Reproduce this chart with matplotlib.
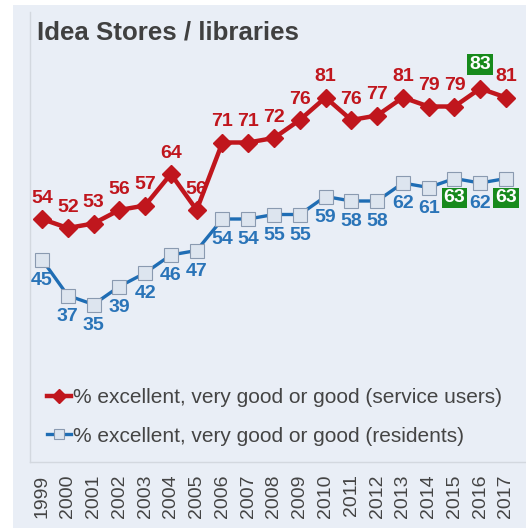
import matplotlib
matplotlib.use("Agg")
import matplotlib.pyplot as plt
from matplotlib.patches import Rectangle

years = list(range(1999, 2018))
service_users = [54, 52, 53, 56, 57, 64, 56, 71, 71, 72, 76, 81, 76, 77, 81, 79, 79, 83, 81]
residents = [45, 37, 35, 39, 42, 46, 47, 54, 54, 55, 55, 59, 58, 58, 62, 61, 63, 62, 63]
highlight_users = [2016]
highlight_residents = [2015, 2017]
title = "Idea Stores / libraries"
label_users = "% excellent, very good or good (service users)"
label_residents = "% excellent, very good or good (residents)"

RED = "#c0161d"
BLUE = "#1f6db4"
BLUE_TXT = "#2a74b8"
GREEN = "#178a1c"
PANEL = "#e9eef6"
FONT = "Liberation Sans"

W, H = 526, 528
fig = plt.figure(figsize=(W / 100, H / 100), dpi=100)
fig.patch.set_facecolor("white")
fig.patches.append(Rectangle((13 / W, 0), 1 - 13 / W, 1 - 5 / H, transform=fig.transFigure,
                             facecolor=PANEL, edgecolor="none", zorder=-5))

ax = fig.add_axes([30 / W, 1 - 462 / H, 496 / W, 450 / H])
ax.set_zorder(2)
ax.set_facecolor("none")
ax.set_xlim(1998.535, 2017.776)
ax.set_ylim(0, 100)
for s in ["top", "right"]:
    ax.spines[s].set_visible(False)
for s in ["left", "bottom"]:
    ax.spines[s].set_color("#d3d8df")
    ax.spines[s].set_linewidth(1.0)
ax.set_yticks([])
ax.set_xticks(years)
ax.set_xticklabels([str(y) for y in years], rotation=90, fontsize=14, family=FONT, color="#444444")
ax.tick_params(axis="x", length=0, pad=9)

ax.plot(years, service_users, color=RED, lw=3.2, marker="D", ms=9, mfc=RED, mec=RED,
        label=label_users, zorder=3)
ax.plot(years, residents, color=BLUE, lw=2.4, marker="s", ms=9.5, mfc="#dde5ef", mec="#8a9ab0",
        mew=0.8, label=label_residents, zorder=3)

LFS = 14
for y, v in zip(years, service_users):
    if y in highlight_users:
        ax.annotate(str(v), (y, v), xytext=(0, 17.5), textcoords="offset points", ha="center",
                    va="center", fontsize=LFS, fontweight="bold", family=FONT, color="white",
                    bbox=dict(boxstyle="square,pad=0.1", fc=GREEN, ec="none"), zorder=5)
    else:
        ax.annotate(str(v), (y, v), xytext=(0, 15), textcoords="offset points", ha="center",
                    va="center", fontsize=LFS, fontweight="bold", family=FONT, color=RED, zorder=4)

for y, v in zip(years, residents):
    if y in highlight_residents:
        ax.annotate(str(v), (y, v), xytext=(0, -14), textcoords="offset points", ha="center",
                    va="center", fontsize=LFS, fontweight="bold", family=FONT, color="white",
                    bbox=dict(boxstyle="square,pad=0.1", fc=GREEN, ec="none"), zorder=5)
    else:
        ax.annotate(str(v), (y, v), xytext=(0, -15), textcoords="offset points", ha="center",
                    va="center", fontsize=LFS, fontweight="bold", family=FONT, color=BLUE_TXT, zorder=4)

fig.text(37 / W, 1 - 32 / H, title, fontsize=18.6, fontweight="bold", family=FONT,
         color="#404040", ha="left", va="center", zorder=5)

leg = ax.legend(loc="upper left", bbox_to_anchor=(47 / W, 1 - 388 / H), bbox_transform=fig.transFigure,
                frameon=False, prop={"family": FONT, "size": 15}, handlelength=1.15,
                handletextpad=0.1, labelspacing=0.95, markerscale=0.75, borderpad=0, borderaxespad=0)
for t in leg.get_texts():
    t.set_color("#444444")

fig.savefig("out.png", dpi=100)
